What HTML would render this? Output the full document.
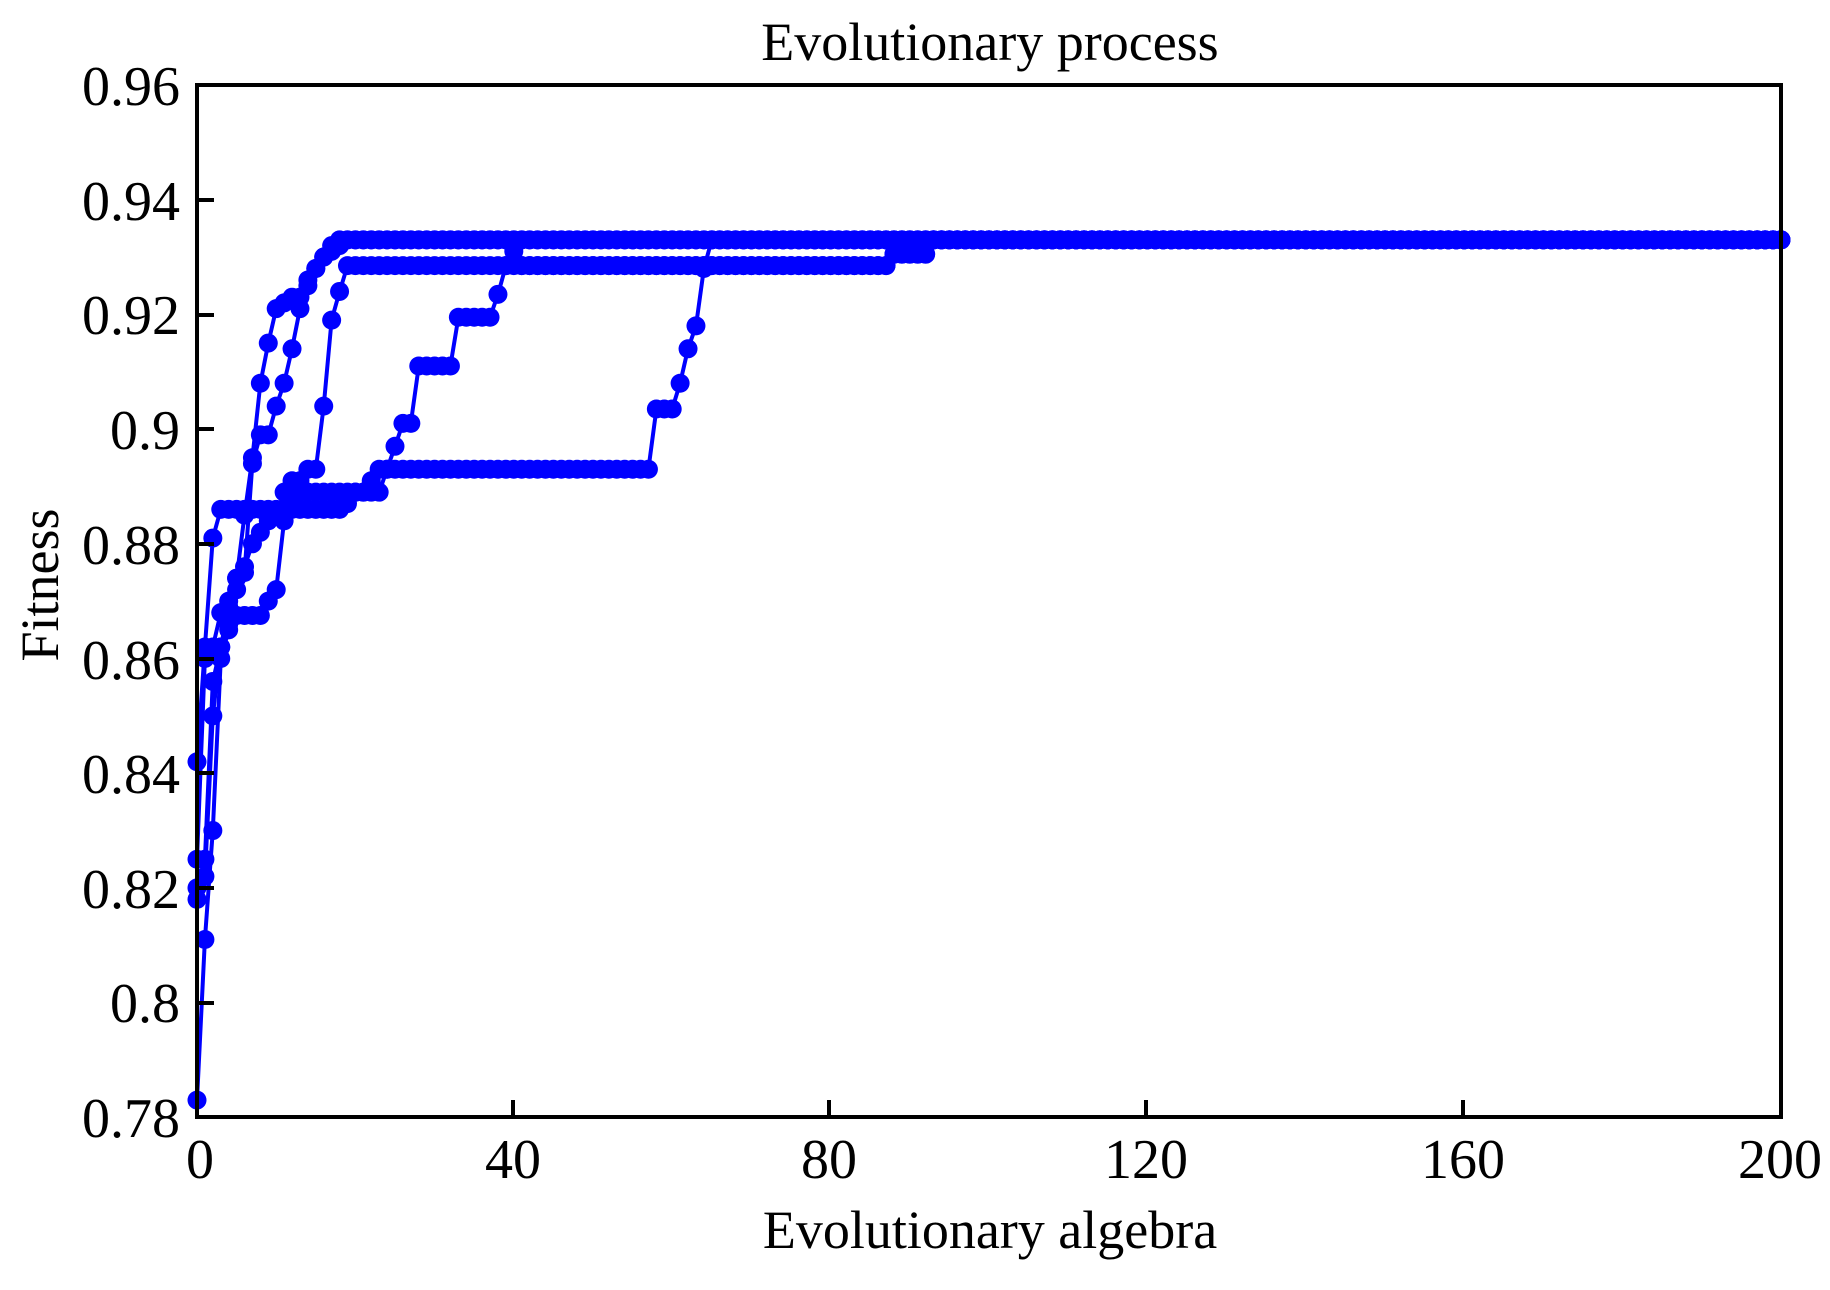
<!DOCTYPE html>
<html><head><meta charset="utf-8"><style>
html,body{margin:0;padding:0;background:#fff;}
svg{display:block;}
text{font-family:"Liberation Serif",serif;fill:#000;}
</style></head><body>
<svg id="s" width="1830" height="1290" viewBox="0 0 1830 1290" xmlns="http://www.w3.org/2000/svg">
<rect width="1830" height="1290" fill="#fff"/>
<text x="990" y="60" font-size="54" text-anchor="middle">Evolutionary process</text>
<text x="990" y="1248" font-size="54" text-anchor="middle">Evolutionary algebra</text>
<text transform="translate(58,585) rotate(-90)" font-size="54" text-anchor="middle">Fitness</text>
<g font-size="56" text-anchor="end">
<text x="180" y="105">0.96</text>
<text x="180" y="220">0.94</text>
<text x="180" y="334">0.92</text>
<text x="180" y="449">0.9</text>
<text x="180" y="564">0.88</text>
<text x="180" y="679">0.86</text>
<text x="180" y="793">0.84</text>
<text x="180" y="908">0.82</text>
<text x="180" y="1022">0.8</text>
<text x="180" y="1137">0.78</text>
</g>
<g font-size="56" text-anchor="middle">
<text x="200" y="1178">0</text>
<text x="513" y="1178">40</text>
<text x="829" y="1178">80</text>
<text x="1146" y="1178">120</text>
<text x="1463" y="1178">160</text>
<text x="1780" y="1178">200</text>
</g>
<g id="data"></g>
<g stroke="#000" stroke-width="4" fill="none">
<rect x="197" y="85" width="1584" height="1032"/>
<path d="M197 200h17M197 315h17M197 429h17M197 544h17M197 659h17M197 773h17M197 888h17M197 1003h17"/>
<path d="M513 1117v-17M829 1117v-17M1146 1117v-17M1463 1117v-17"/>
</g>
</svg>
<script>
function X(g){return 197+g*7.92;}
function Y(v){return 85+(0.96-v)*5735;}
function fill(list){var a=[];for(var i=0;i<list.length;i++)a.push([i,list[i]]);var last=list[list.length-1];for(var g=list.length;g<=200;g++)a.push([g,last]);return a;}
function steps(spec){var a=[];for(var i=0;i<spec.length;i++){var s=spec[i];var nxt=i+1<spec.length?spec[i+1][0]:201;for(var g=s[0];g<nxt;g++)a.push([g,s[1]]);}return a;}
var series=[
fill([0.825,0.86,0.862,0.868,0.87,0.874,0.885,0.895,0.908,0.915,0.921,0.922,0.923,0.923,0.926,0.928,0.930,0.932,0.933]),
steps([[0,0.818],[1,0.822],[2,0.850],[3,0.862],[4,0.866],[5,0.874],[6,0.876],[7,0.880],[8,0.882],[9,0.884],[10,0.885],[11,0.889],[12,0.891],[14,0.893],[16,0.904],[17,0.919],[18,0.924],[19,0.9285],[88,0.9305],[93,0.933]]),
steps([[0,0.783],[1,0.811],[2,0.830],[3,0.860],[4,0.865],[5,0.8675],[9,0.870],[10,0.872],[11,0.884],[12,0.887],[13,0.889],[24,0.893],[25,0.897],[26,0.901],[28,0.911],[33,0.9195],[38,0.9235],[39,0.9285],[40,0.931],[41,0.9285],[88,0.9305],[93,0.933]]),
steps([[0,0.842],[1,0.862],[2,0.881],[3,0.886],[19,0.887],[20,0.889],[22,0.891],[23,0.893],[58,0.9035],[61,0.908],[62,0.914],[63,0.918],[64,0.928],[65,0.933]]),
steps([[0,0.82],[1,0.825],[2,0.856],[3,0.862],[4,0.869],[5,0.872],[6,0.875],[7,0.894],[8,0.899],[10,0.904],[11,0.908],[12,0.914],[13,0.921],[14,0.925],[15,0.928],[16,0.930],[17,0.931],[18,0.932],[19,0.933]])
];
var ns="http://www.w3.org/2000/svg",g=document.getElementById("data");
series.forEach(function(s){var d="";s.forEach(function(p,i){d+=(i?"L":"M")+X(p[0]).toFixed(1)+" "+Y(p[1]).toFixed(1);});
var pa=document.createElementNS(ns,"path");pa.setAttribute("d",d);pa.setAttribute("stroke","#0000ff");pa.setAttribute("stroke-width","4");pa.setAttribute("fill","none");g.appendChild(pa);
s.forEach(function(p){var c=document.createElementNS(ns,"circle");c.setAttribute("cx",X(p[0]));c.setAttribute("cy",Y(p[1]));c.setAttribute("r","9.5");c.setAttribute("fill","#0000ff");g.appendChild(c);});});
</script>
</body></html>
